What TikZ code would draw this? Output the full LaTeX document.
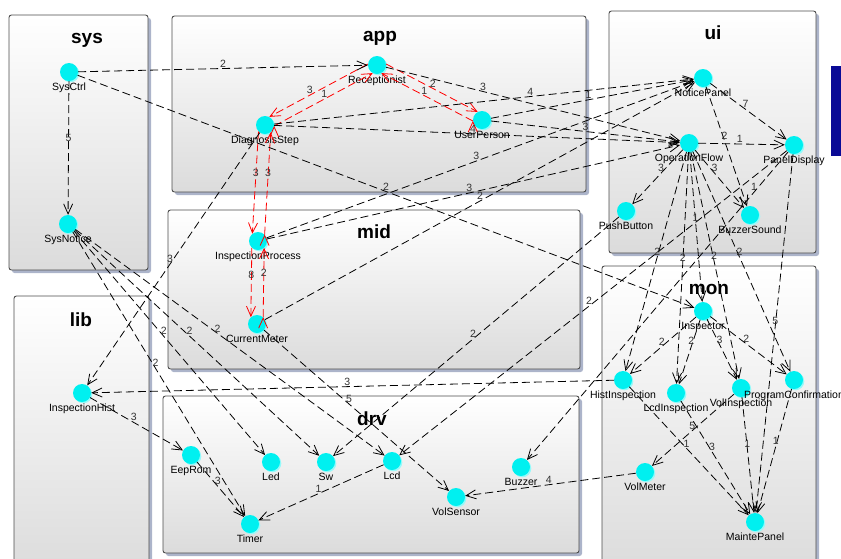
\documentclass[tikz,border=0pt]{standalone}
\usepackage{fontspec}
\setmainfont{Liberation Sans}
\usepackage{tikz}
\usetikzlibrary{arrows.meta,shadows}
\definecolor{shadowc}{RGB}{172,180,202}
\definecolor{navyb}{RGB}{10,10,150}
\definecolor{clsc}{RGB}{0,240,240}
\definecolor{clsshade}{RGB}{150,250,250}

\begin{document}
\begin{tikzpicture}[x=1pt,y=-1pt,
    >={Straight Barb[length=10pt,width=9pt]},
    pkg/.style={draw=black!70,line width=0.9pt,rounded corners=2.5pt,top color=white,bottom color=black!14,
      drop shadow={shadow xshift=3pt,shadow yshift=-3pt,fill=shadowc,opacity=1}},
    ttl/.style={font=\bfseries\fontsize{19}{20}\selectfont},
    cls/.style={circle,fill=clsc,inner sep=0pt,minimum size=18pt,
      drop shadow={shadow xshift=1.3pt,shadow yshift=-1.3pt,fill=clsshade,opacity=1}},
    lab/.style={font=\fontsize{10.5}{12}\selectfont,inner sep=1.5pt},
    num/.style={font=\fontsize{10.5}{11}\selectfont,text=black!80,inner sep=1pt,above},
    dep/.style={->,line width=0.8pt,dash pattern=on 8pt off 4pt},
    cyc/.style={dep,red}]
    \useasboundingbox (0,0) rectangle (841,558);

    % packages
    \path[pkg] (9,15) rectangle (148,270);
    \path[pkg] (172,16) rectangle (586,192);
    \path[pkg] (609,11) rectangle (816,253);
    \path[pkg] (168,210) rectangle (580,369);
    \path[pkg] (14,296) rectangle (149,575);
    \path[pkg] (163,396) rectangle (579,553);
    \path[pkg] (602,266) rectangle (816,575);
    \fill[navyb] (831,66) rectangle (850,156);

    \node[ttl] (tsys) at (87,40) {sys};
    \node[ttl] (tapp) at (380,38) {app};
    \node[ttl] (tui) at (713,33) {ui};
    \node[ttl] (tmid) at (374,232) {mid};
    \node[ttl] (tlib) at (81,320) {lib};
    \node[ttl] (tdrv) at (372,419) {drv};
    \node[ttl] (tmon) at (709,289) {mon};

    % classes
    \node[cls,label={[lab]below:SysCtrl}] (sctl) at (69,72) {};
    \node[cls,label={[lab]below:SysNotice}] (snot) at (68,224) {};
    \node[cls,label={[lab]below:Receptionist}] (recp) at (377,65) {};
    \node[cls,label={[lab]below:DiagnosisStep}] (diag) at (265,125) {};
    \node[cls,label={[lab]below:UserPerson}] (user) at (482,120) {};
    \node[cls,label={[lab]below:InspectionProcess}] (iproc) at (258,241) {};
    \node[cls,label={[lab]below:CurrentMeter}] (cmet) at (257,324) {};
    \node[cls,label={[lab]below:NoticePanel}] (npan) at (703,78) {};
    \node[cls,label={[lab]below:OperationFlow}] (oflow) at (689,143) {};
    \node[cls,label={[lab]below:PanelDisplay}] (pdisp) at (794,145) {};
    \node[cls,label={[lab]below:PushButton}] (pbtn) at (626,211) {};
    \node[cls,label={[lab]below:BuzzerSound}] (bsnd) at (750,215) {};
    \node[cls,label={[lab]below:Inspector}] (insp) at (703,311) {};
    \node[cls,label={[lab]below:HistInspection}] (hins) at (623,380) {};
    \node[cls,label={[lab]below:LcdInspection}] (lins) at (676,393) {};
    \node[cls,label={[lab]below:VolInspection}] (vins) at (741,388) {};
    \node[cls,label={[lab]below:ProgramConfirmation}] (pconf) at (794,380) {};
    \node[cls,label={[lab]below:VolMeter}] (vmet) at (645,472) {};
    \node[cls,label={[lab]below:MaintePanel}] (mpan) at (755,522) {};
    \node[cls,label={[lab]below:InspectionHist}] (ihist) at (82,393) {};
    \node[cls,label={[lab]below:EepRom}] (eep) at (191,455) {};
    \node[cls,label={[lab]below:Led}] (led) at (271,462) {};
    \node[cls,label={[lab]below:Sw}] (sw) at (326,462) {};
    \node[cls,label={[lab]below:Lcd}] (lcd) at (392,461) {};
    \node[cls,label={[lab]below:Buzzer}] (buz) at (521,467) {};
    \node[cls,label={[lab]below:VolSensor}] (vsen) at (456,497) {};
    \node[cls,label={[lab]below:Timer}] (tim) at (250,524) {};

    % cyclic dependencies
    \draw[cyc] (recp.174) edge node[num,pos=.59]{3} (diag.62)
               (diag.354) edge node[num,pos=.51]{1} (recp.242);
    \draw[cyc] (recp.6) edge node[num,pos=.51]{2} (user.118)
               (user.186) edge node[num,pos=.53]{1} (recp.298);
    \draw[cyc] (diag.225) edge node[num,pos=.45]{3} (iproc.128)
               (iproc.44) edge node[num,pos=.55]{3} (diag.308);
    \draw[cyc] (iproc.228) edge node[num,pos=.46]{8} (cmet.132)
               (cmet.48) edge node[num,pos=.57]{2} (iproc.312);

    % dependencies
    \draw[dep] (sctl) edge node[num,pos=.5]{2} (recp) edge node[num,pos=.46]{5} (snot)
        edge node[num,pos=.5]{2} (insp);
    \draw[dep] (snot) edge node[num,pos=.48]{2} (tim) edge node[num,pos=.47]{2} (led)
        edge node[num,pos=.47]{2} (sw) edge node[num,pos=.46]{2} (lcd);
    \draw[dep] (recp) edge node[num,pos=.33]{3} (oflow);
    \draw[dep] (diag) edge node[num,pos=.61]{4} (npan) edge node[num,pos=.49]{4} (oflow)
        edge node[num,pos=.52]{3} (ihist);
    \draw[dep] (user) edge node[num,pos=.48]{1} (npan) edge node[num,pos=.5]{3} (oflow);
    \draw[dep] (iproc) edge node[num,pos=.49]{3} (npan) edge node[num,pos=.49]{3} (oflow);
    \draw[dep] (cmet) edge node[num,pos=.5]{2} (npan) edge node[num,pos=.46]{5} (vsen);
    \draw[dep] (ihist) edge node[num,pos=.47]{3} (eep);
    \draw[dep] (eep) edge node[num,pos=.44]{3} (tim);
    \draw[dep] (lcd) edge node[num,pos=.52]{1} (tim);
    \draw[dep] (pbtn) edge node[num,pos=.51]{2} (sw);
    \draw[dep] (pdisp) edge node[num,pos=.51]{2} (lcd) edge node[num,pos=.13]{1} (buz)
        edge node[num,pos=.48]{5} (mpan);
    \draw[dep] (npan) edge node[num,pos=.46]{7} (pdisp) edge node[num,pos=.45]{2} (bsnd);
    \draw[dep] (oflow) edge node[num,pos=.43]{3} (pbtn) edge node[num,pos=.4]{3} (bsnd)
        edge node[num,pos=.48]{1} (pdisp) edge node[num,pos=.47]{1} (insp)
        edge node[num,pos=.48]{2} (hins) edge node[num,pos=.48]{2} (lins)
        edge node[num,pos=.48]{2} (vins) edge node[num,pos=.48]{2} (pconf);
    \draw[dep] (insp) edge node[num,pos=.52]{2} (hins) edge node[num,pos=.41]{2} (lins)
        edge node[num,pos=.42]{3} (vins) edge node[num,pos=.47]{2} (pconf);
    \draw[dep] (hins) edge node[num,pos=.51]{3} (ihist) edge node[num,pos=.48]{1} (mpan);
    \draw[dep] (lins) edge node[num,pos=.45]{3} (mpan);
    \draw[dep] (vins) edge node[num,pos=.45]{1} (mpan) edge node[num,pos=.51]{5} (vmet);
    \draw[dep] (pconf) edge node[num,pos=.46]{1} (mpan);
    \draw[dep] (vmet) edge node[num,pos=.51]{4} (vsen);
\end{tikzpicture}
\end{document}
